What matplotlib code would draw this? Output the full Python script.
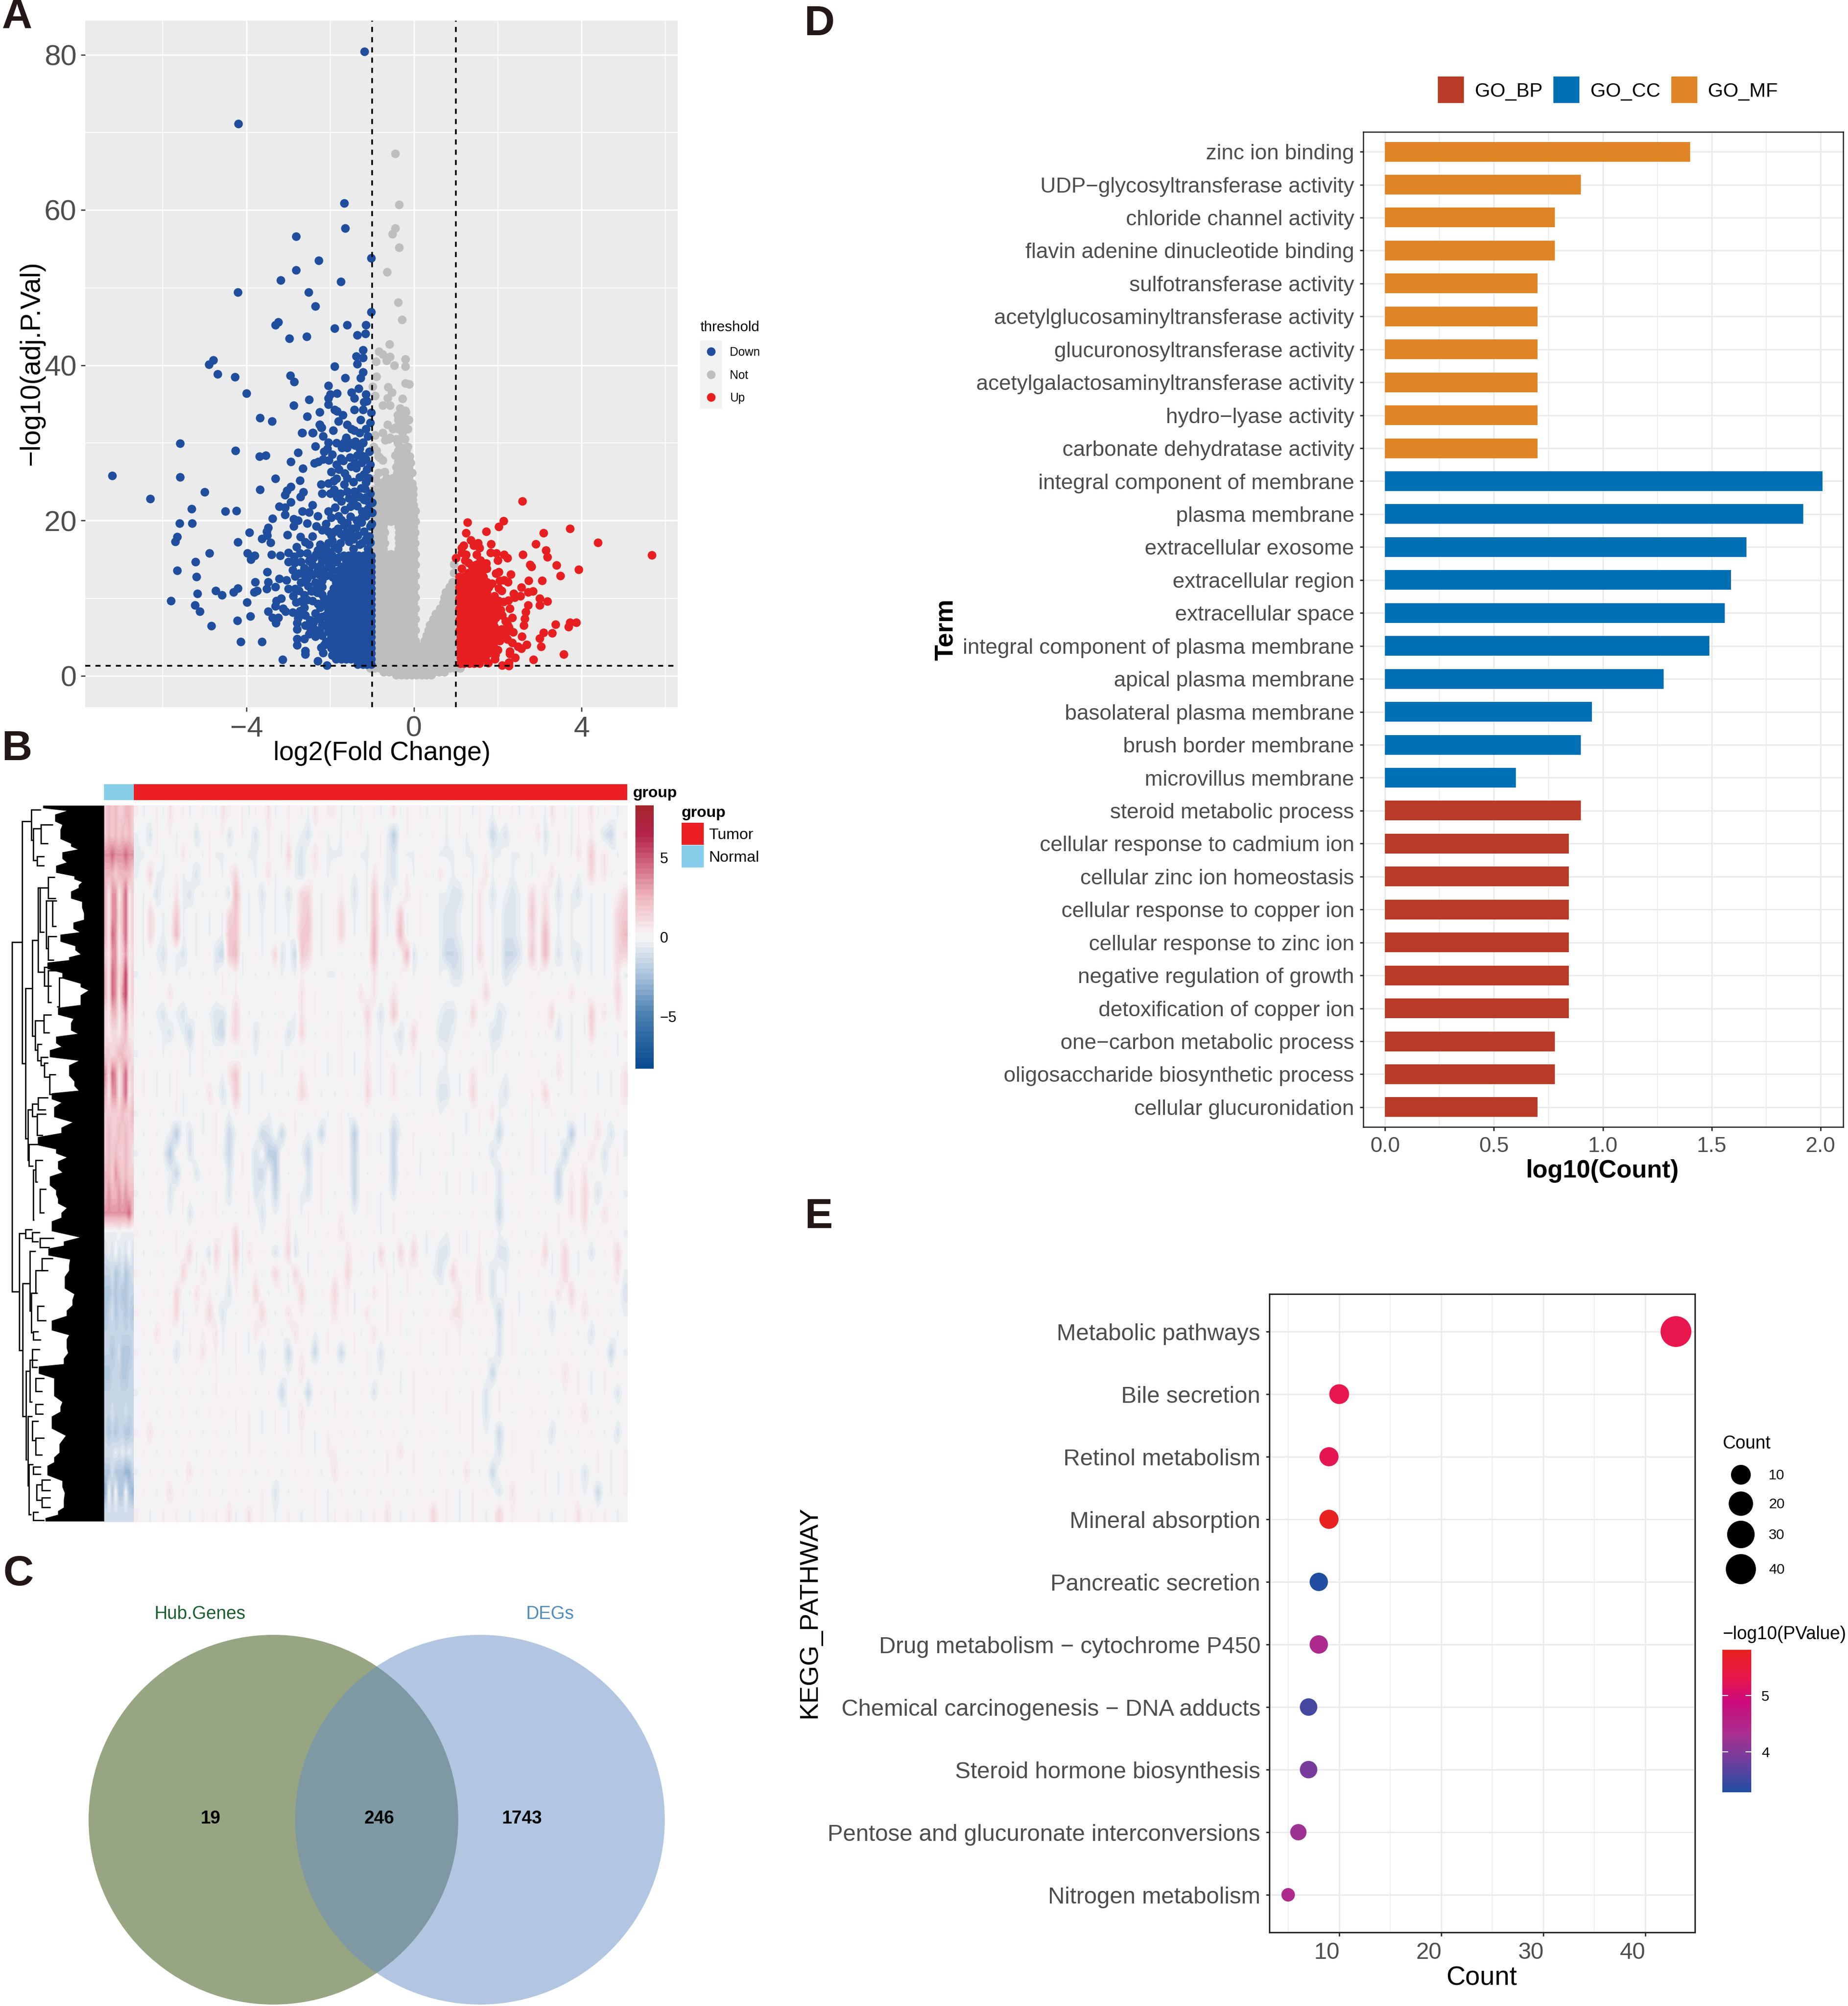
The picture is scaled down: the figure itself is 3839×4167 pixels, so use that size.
"""Five panel figure: volcano, heatmap, venn, GO bars, KEGG dots."""
import numpy as np
import matplotlib
matplotlib.use("Agg")
import matplotlib.pyplot as plt
from matplotlib.cm import ScalarMappable
from matplotlib.colors import LinearSegmentedColormap, ListedColormap, Normalize
from matplotlib.patches import Circle, Rectangle
from matplotlib.ticker import MultipleLocator
from matplotlib.transforms import ScaledTranslation

plt.rcParams["font.family"] = ["Liberation Sans", "DejaVu Sans"]
plt.rcParams["axes.unicode_minus"] = True

W, H, DPI = 3839, 4167, 300

# ---------------- panel A data ----------------
blue_sparse = [
    (-1.18,80.4),(-4.19,71.1),(-1.67,60.9),(-1.64,57.7),(-2.82,56.6),(-2.27,53.5),(-1.02,53.8),(-2.81,52.3),
    (-3.18,51.0),(-1.75,50.8),(-4.21,49.4),(-2.52,49.4),(-2.36,47.6),(-1.02,46.9),(-3.24,45.6),(-3.31,45.2),
    (-1.9,44.8),(-1.6,45.2),(-1.15,45.2),(-1.16,44.1),(-1.35,43.9),(-2.98,43.5),(-2.56,43.7),(-1.22,42.0),
    (-1.38,41.2),(-1.22,41.0),(-1.36,40.2),(-4.79,40.7),(-4.9,40.1),(-1.9,39.9),(-4.69,38.9),(-4.27,38.5),
    (-2.95,38.7),(-2.86,37.9),(-1.22,39.1),(-1.64,38.4),(-1.27,38.4),(-2.05,37.4),(-4.0,36.4),(-1.32,37.0),
    (-1.49,36.5),(-1.15,36.3),(-2.0,36.3),(-1.84,36.4),(-2.05,35.8),(-1.42,35.8),(-2.5,35.6),(-1.2,35.3),
    (-1.13,35.4),(-2.04,35.0),(-1.9,34.3),(-1.84,34.1),(-1.42,34.3),(-1.22,34.3),(-1.02,33.9),(-2.87,34.85),
    (-3.68,33.25),(-3.39,32.8),(-2.55,33.4),(-1.27,33.0),(-2.25,32.35),(-2.22,32.0),(-2.41,31.3),(-2.68,31.3),
    (-1.93,31.6),(-1.49,31.8),(-1.42,31.6),(-2.17,30.9),(-1.62,30.6),(-1.22,30.0),(-7.21,25.8),(-6.3,22.8),
    (-5.59,29.96),(-4.26,29.0),(-5.59,25.6),(-5.0,23.7),(-5.31,21.5),(-4.51,21.2),(-4.24,21.3),(-5.6,19.65),
    (-5.3,19.65),(-3.93,18.5),(-5.66,17.9),(-5.7,17.3),(-4.21,17.25),(-4.88,15.8),(-3.98,15.8),(-3.9,15.0),
    (-3.8,15.5),(-5.22,14.7),(-5.66,13.6),(-5.19,12.8),(-3.51,13.4),(-3.79,12.1),(-3.48,12.1),(-4.21,11.3),
    (-4.31,10.8),(-4.73,11.0),(-4.59,10.4),(-5.17,10.6),(-5.8,9.65),(-3.99,9.5),(-3.81,10.8),(-3.75,11.0),
    (-3.52,11.25),(-5.23,9.1),(-5.12,8.3),(-3.91,7.7),(-4.22,7.15),(-4.84,6.45),(-4.14,4.4),(-3.63,4.4),
    (-3.14,2.1),(-2.3,1.9),(-2.08,1.35),(-2.67,31.3),(-2.42,31.3),(-2.25,32.4),(-2.21,32.0),(-2.04,30.1),
    (-2.36,29.6),(-2.07,29.25),(-2.15,28.9),(-1.95,28.5),(-2.77,28.8),(-2.94,27.6),(-2.66,26.7),(-2.38,27.4),
    (-2.29,27.6),(-2.17,27.9),(-2.03,27.8),(-3.69,28.3),(-3.54,28.4),(-3.31,25.4),(-2.72,25.2),(-2.94,24.35),
    (-3.03,23.9),(-3.08,23.3),(-3.68,24.0),(-2.64,23.7),(-2.71,23.05),(-2.94,22.4),(-3.22,21.8),(-3.08,21.7),
    (-3.08,20.75),(-3.38,20.3),(-2.42,22.0),(-2.67,21.2),(-2.5,21.1),(-2.3,20.6),(-2.05,21.2),(-1.98,20.4),
    (-2.87,20.2),(-2.77,20.0),(-2.87,19.3),(-2.55,19.65),(-3.48,19.1),(-3.52,18.6),(-3.5,18.1),(-3.02,18.2),
    (-3.63,17.7),(-3.43,17.2),(-2.8,16.6),(-2.71,17.9),(-2.6,17.25),(-2.43,18.0),(-2.5,16.9),(-3.4,15.65),
    (-3.19,15.5),(-3.0,15.9),(-3.0,14.7),(-2.9,13.65),(-2.84,12.85),(-2.86,15.4),(-2.72,15.8),(-2.55,15.8),
    (-2.34,15.65),(-2.19,14.9),(-2.62,13.9),(-2.43,14.3),(-2.24,14.2),(-2.62,13.0),(-2.43,13.0),(-2.53,11.6),
    (-2.36,12.0),(-2.19,12.25),(-3.0,11.2),(-2.84,11.25),(-2.89,10.3),(-2.81,9.5),(-2.62,10.4),(-2.43,9.65),
    (-2.31,10.75),(-2.24,8.8),(-3.17,10.0),(-3.29,9.65),(-3.31,9.0),(-3.12,8.7),(-3.48,8.3),(-3.38,7.5),
    (-3.24,7.5),(-3.3,6.8),(-3.07,8.3),(-2.9,8.2),(-2.72,8.4),(-2.62,8.8),(-2.77,7.45),(-2.79,6.8),(-2.79,6.0),
    (-2.48,6.2),(-2.36,8.05),(-2.48,7.2),(-2.38,6.0),(-2.19,5.2),(-2.79,4.75),(-2.62,4.75),(-2.79,4.0),
    (-2.6,3.2),(-2.6,2.8),(-2.22,3.65),(-2.17,3.0),(-1.95,2.65),(-3.22,12.5),(-3.05,12.35),(-3.31,11.5),
    (-1.62,30.7),(-1.67,30.1),(-1.55,30.1),(-1.72,29.4),(-1.6,29.4),(-1.41,29.7),(-1.3,29.25),(-1.22,30.1),
    (-1.07,28.9),(-1.23,28.35),(-1.69,27.7),(-1.53,28.15),(-1.41,27.4),(-1.25,27.5),(-1.38,26.8),(-1.12,26.6),
    (-1.79,26.6),(-1.98,26.3),(-1.65,26.1),(-1.6,25.5),(-1.67,24.7),(-1.08,25.5),(-2.22,24.7),(-2.04,24.8),
    (-1.92,25.1),(-2.19,23.5),(-2.0,23.5),(-1.91,24.0),(-1.76,23.5),(-1.6,23.75),(-1.43,23.75),(-1.38,23.3),
    (-1.26,24.2),(-1.17,24.1),(-1.74,22.5),(-1.84,23.0),(-1.88,21.7),(-1.65,21.4),(-1.52,21.8),(-1.36,21.9),
    (-1.24,21.2),(-1.1,21.5),(-1.0,22.3),(-1.0,21.0),(-1.52,20.5),(-1.37,20.0),(-1.74,20.1),(-1.67,19.4),
    (-1.81,19.0),(-1.05,19.3),(-1.01,19.6),(-2.33,19.3),(-2.19,18.8),(-2.05,18.6),(-1.98,18.1),(-1.62,18.5),
    (-1.48,19.0),(-1.34,18.1),(-1.07,18.0),(-1.38,19.1),(-1.67,17.9),(-1.76,17.1),(-2.05,17.1),(-2.24,16.9),
    (-2.17,16.15),(-2.0,15.9),(-1.81,16.4),(-1.24,17.1),(-1.1,16.4),(-1.45,16.4),
    # fringe of the dense cloud
    (-1.05,17.2),(-1.15,17.6),(-1.3,16.9),(-1.55,17.3),(-1.45,17.6),(-1.9,16.6),(-1.95,17.4),(-2.1,16.4),(-2.3,16.2),
    (-1.2,18.6),(-1.5,18.2),(-1.75,18.3),(-1.9,18.6),(-1.25,19.8),(-1.6,19.7),(-2.1,19.6),(-1.15,20.6),(-1.25,20.4),
    (-1.8,20.6),(-1.78,15.3),(-1.85,14.7),(-1.95,15.1),(-2.1,15.2),(-2.05,14.6),(-2.25,15.5),(-2.4,15.2),(-2.5,14.8),
    (-2.7,14.7),(-2.85,14.6),(-2.3,13.6),(-2.15,13.7),(-1.95,13.5),(-1.8,13.6),(-1.7,13.3),(-2.1,12.9),(-2.25,13.0),
    (-2.5,13.5),(-2.75,13.2),(-2.55,12.5),(-2.7,12.0),(-2.75,11.0),(-2.2,11.5),(-2.35,11.1),(-2.45,10.9),(-2.2,10.5),
    (-2.55,9.8),(-2.7,9.6),(-2.3,9.3),(-2.15,9.9),(-2.2,7.6),(-2.3,7.4),(-2.4,6.9),(-2.2,6.6),(-2.25,5.9),(-2.6,7.8),
    (-2.6,6.5),(-2.5,5.4),(-2.35,5.1),(-2.1,4.4),(-2.15,4.0),(-1.1,22.5),(-1.2,22.7),(-1.3,23.1),(-1.05,23.5),
    (-1.15,23.0),(-1.45,22.6),(-1.55,22.9),(-1.15,24.9),(-1.3,25.6),(-1.45,25.0),(-1.2,26.0),(-1.85,25.4),(-1.35,28.4),
    (-1.15,27.9),(-1.5,27.0),(-1.05,27.2),(-1.75,28.0),(-1.85,27.2),(-1.4,30.2),(-1.1,30.9),(-1.85,30.0),(-1.8,32.8),
    (-1.6,32.4),(-1.15,31.8),(-1.05,32.6),(-1.7,33.6),(-2.25,34.0),(-1.3,31.3),
]
# dense part of the down-regulated cloud, one (y, x values) row at a time
blue_rows = [
    (1.5, [-1.02,-1.12,-1.22,-1.34]),
    (2.2, [-1.02,-1.14,-1.26,-1.38,-1.5,-1.62,-1.74,-1.86]),
    (2.9, [-1.02,-1.08,-1.2,-1.32,-1.44,-1.56,-1.68,-1.8,-1.92]),
    (3.6, [-1.02,-1.14,-1.26,-1.38,-1.5,-1.62,-1.74,-1.86,-1.98]),
    (4.3, [-1.02,-1.08,-1.2,-1.32,-1.44,-1.56,-1.68,-1.8,-1.92]),
    (5.0, [-1.02,-1.14,-1.26,-1.38,-1.5,-1.62,-1.74,-1.86,-1.98]),
    (5.7, [-1.02,-1.08,-1.2,-1.32,-1.44,-1.56,-1.68,-1.8,-1.92,-2.04]),
    (6.4, [-1.02,-1.14,-1.26,-1.38,-1.5,-1.62,-1.74,-1.86,-1.98,-2.08]),
    (7.1, [-1.02,-1.08,-1.2,-1.32,-1.44,-1.56,-1.68,-1.8,-1.92,-2.04]),
    (7.8, [-1.02,-1.14,-1.26,-1.38,-1.5,-1.62,-1.74,-1.86,-1.98,-2.1]),
    (8.5, [-1.02,-1.08,-1.2,-1.32,-1.44,-1.56,-1.68,-1.8,-1.92,-2.04]),
    (9.2, [-1.02,-1.14,-1.26,-1.38,-1.5,-1.62,-1.74,-1.86,-1.98,-2.1]),
    (9.9, [-1.02,-1.08,-1.2,-1.32,-1.44,-1.56,-1.68,-1.8,-1.92,-2.04]),
    (10.6, [-1.02,-1.14,-1.26,-1.38,-1.5,-1.62,-1.74,-1.86,-1.98]),
    (11.3, [-1.02,-1.08,-1.2,-1.32,-1.44,-1.56,-1.68,-1.8,-1.92]),
    (12.0, [-1.02,-1.14,-1.26,-1.38,-1.5,-1.62,-1.74,-1.86]),
    (12.7, [-1.02,-1.08,-1.2,-1.32,-1.44,-1.56,-1.68,-1.8,-1.94]),
    (13.4, [-1.02,-1.14,-1.26,-1.38,-1.5,-1.62]),
    (14.1, [-1.02,-1.08,-1.2,-1.32,-1.44,-1.56,-1.72,-1.98]),
    (14.8, [-1.02,-1.14,-1.26,-1.38,-1.5,-1.62,-1.85]),
    (15.5, [-1.02,-1.2,-1.32,-1.44,-1.56,-1.68,-1.95]),
]

gray_sparse = [
    (-0.45,67.3),(-0.36,60.7),(-0.45,57.7),(-0.52,56.9),(-0.35,55.2),(-0.64,52.0),(-0.38,48.1),(-0.29,45.9),
    (-0.58,42.7),(-0.84,41.8),(-0.75,41.4),(-0.91,40.5),(-0.65,40.6),(-0.57,41.1),(-0.47,40.0),(-0.21,40.8),
    (-0.21,39.9),(-0.9,38.6),(-0.21,37.7),(-0.11,37.6),(-0.99,37.3),(-0.62,37.2),(-0.53,36.5),(-0.93,36.1),
    (-0.63,35.8),(-0.27,35.7),(-0.75,34.85),(-0.57,34.85),(-0.33,34.5),(-0.21,34.2),(-0.39,33.6),(-0.27,33.6),
    (-0.15,32.9),(-0.63,32.4),(-0.27,32.4),(-0.93,31.0),(-0.75,31.3),(-0.57,30.7),(-0.45,32.0),(-0.27,31.3),
    (-0.69,30.4),(-0.39,30.0),(-0.15,29.5),(-0.27,29.4),(-0.96,29.5),(-0.81,28.1),(-0.45,28.4),(-0.27,28.1),
    (-0.08,27.5),(-0.75,27.8),(0.95,14.4),(0.95,13.3),(-0.33,27.0),(-0.22,26.6),(-0.05,26.2),(-0.7,26.3),
    (-0.92,25.4),(-0.45,25.5),(-0.3,25.2),(-0.15,25.0),(-0.05,24.8),(-0.75,24.9),(-0.6,24.3),(-0.98,24.0),
    (-0.8,23.8),(-0.4,24.0),(-0.25,23.6),(-0.1,23.7),(-0.02,23.4),(-0.55,23.2),(-0.7,23.1),(-0.9,22.9),
]
gray_a = [-0.97,-0.85,-0.73,-0.61,-0.49,-0.37,-0.25,-0.13,-0.01]
gray_b = [-0.92,-0.79,-0.67,-0.55,-0.43,-0.31,-0.19,-0.07,0.04]
gray_hole_a = [-0.97,-0.85,-0.73,-0.37,-0.25,-0.13,-0.01]
gray_hole_b = [-0.92,-0.79,-0.7,-0.35,-0.31,-0.19,-0.07,0.02]
gray_arm_rows = [
    (3.8,gray_a),(4.5,gray_b),(5.2,gray_a),(5.9,gray_b),(6.6,gray_a),(7.3,gray_b),(8.0,gray_a),(8.7,gray_b),
    (9.4,gray_a),(10.1,gray_b),(10.8,gray_a),(11.5,gray_b),(12.2,gray_a),(12.9,gray_b),(13.6,gray_a),(14.3,gray_b),
    (15.0,gray_a),(15.7,gray_b),(16.4,gray_hole_a),(17.1,gray_hole_b),(17.8,gray_hole_a),(18.5,gray_hole_b),
    (19.2,gray_hole_a),(19.9,gray_b),(20.6,gray_a),(21.3,gray_b),(22.0,gray_a),
    (22.7,[-0.95,-0.8,-0.65,-0.5,-0.38,-0.26,-0.14,-0.03]),(23.4,[-0.9,-0.72,-0.55,-0.42,-0.3,-0.18,-0.06]),
    (24.1,[-0.7,-0.5,-0.36,-0.24,-0.12,-0.02]),(24.8,[-0.85,-0.6,-0.42,-0.3,-0.18,-0.08]),
    (25.5,[-0.65,-0.5,-0.36,-0.24,-0.12]),(26.2,[-0.85,-0.4,-0.3,-0.18,-0.06]),(26.9,[-0.42,-0.32,-0.22,-0.12]),
    (27.6,[-0.38,-0.28,-0.18]),(28.3,[-0.85,-0.4,-0.3,-0.2,-0.1]),(29.0,[-0.9,-0.38,-0.28,-0.18]),
    (30.5,[-0.6,-0.42,-0.32,-0.22]),(31.8,[-0.5,-0.38,-0.25,-0.15]),(33.0,[-0.38,-0.28,-0.2,-0.12]),(34.0,[-0.3,-0.2]),
]
gray_base_rows = [
    (0.15, [-0.42,-0.3,-0.18,-0.06,0.06,0.18,0.3,0.42]),
    (0.5, [-0.72,-0.6,-0.48,-0.36,-0.24,-0.12,0.0,0.12,0.24,0.36,0.48,0.6,0.72]),
    (1.0, [-1.05,-0.94,-0.82,-0.7,-0.58,-0.46,-0.34,-0.22,-0.1,0.02,0.14,0.26,0.38,0.5,0.62,0.74,0.86,0.98,1.1]),
    (1.7, [-0.98,-0.86,-0.74,-0.62,-0.5,-0.38,-0.26,-0.14,-0.02,0.1,0.22,0.34,0.46,0.58,0.7,0.82,0.94,1.02]),
    (2.4, [-0.92,-0.8,-0.68,-0.56,-0.44,-0.32,-0.2,-0.08,0.04,0.16,0.28,0.4,0.52,0.64,0.76,0.88,1.0]),
    (3.1, [-0.98,-0.86,-0.74,-0.62,-0.5,-0.38,-0.26,-0.14,-0.02,0.08,0.2,0.32,0.44,0.56,0.68,0.8,0.92,1.02]),
    (3.8, [0.13,0.24,0.36,0.48,0.6,0.72,0.84,0.96]),
    (4.5, [0.25,0.36,0.48,0.6,0.72,0.84,0.96,1.02]),
    (5.2, [0.3,0.42,0.54,0.66,0.78,0.9,1.02]),
    (5.9, [0.34,0.46,0.58,0.7,0.82,0.94,1.02]),
    (6.6, [0.38,0.5,0.62,0.74,0.86,0.98]),
    (7.3, [0.46,0.58,0.7,0.82,0.94,1.02]),
    (8.0, [0.52,0.62,0.74,0.86,0.98]),
    (8.7, [0.62,0.72,0.84,0.96,1.02]),
    (9.4, [0.7,0.8,0.92,1.02]),
    (10.1, [0.72,0.84,0.96]),
    (10.8, [0.76,0.88,1.0]),
    (11.5, [0.85,0.96]),
    (12.1, [0.92,1.0]),
]

red_sparse = [
    (2.59,22.5),(1.28,19.76),(2.14,19.97),(2.02,19.2),(3.73,19.0),(1.24,18.43),(1.72,18.6),(3.09,18.4),(4.39,17.2),
    (1.36,17.5),(1.53,17.1),(2.91,17.0),(1.19,16.8),(1.84,17.0),(1.43,16.8),(1.56,16.5),(1.14,16.5),(3.15,16.2),
    (5.68,15.56),(1.83,15.85),(1.97,15.8),(2.15,15.6),(2.23,15.2),(2.6,15.65),(3.18,15.3),(2.0,14.9),(1.0,15.2),
    (1.14,15.85),(1.24,15.6),(1.5,15.6),(1.22,14.9),(1.3,14.6),(2.77,14.35),(2.81,14.1),(3.4,14.26),(1.59,14.9),
    (1.72,14.5),(3.93,13.7),(1.74,13.8),(1.14,13.8),(1.96,13.2),(2.02,13.4),(2.31,13.06),(3.49,12.9),(2.05,12.3),
    (2.15,12.35),(2.24,12.07),(2.74,12.3),(3.06,12.25),(1.86,11.9),(2.56,11.4),(2.02,11.3),(2.09,11.0),(2.38,10.6),
    (2.54,10.3),(2.4,10.1),(2.72,10.8),(2.84,10.9),(3.0,10.0),(3.19,9.6),(3.0,9.1),(2.72,9.1),(2.25,9.75),(2.14,9.55),
    (2.29,8.7),(2.67,8.25),(2.07,8.5),(2.35,7.5),(2.65,7.35),(2.62,6.5),(3.38,6.65),(3.73,6.9),(3.88,6.9),(3.69,6.3),
    (3.09,5.6),(3.3,5.5),(3.0,4.85),(2.57,5.06),(2.37,5.66),(2.69,4.03),(3.04,3.8),(3.58,2.8),(2.85,2.09),(2.56,3.55),
    (2.48,3.76),(2.29,3.14),(2.29,2.83),(2.41,2.37),(2.11,1.34),(2.27,1.73),(2.26,1.28),(1.77,1.69),(1.93,2.2),
    (1.94,2.73),(2.0,3.35),(2.19,7.07),(2.23,6.65),(2.27,6.24),(2.09,6.03),(2.19,5.4),(2.05,5.0),(2.05,4.5),(2.23,4.69),
    (2.35,4.28),(1.98,9.1),(2.02,8.3),(1.9,7.0),(1.9,5.72),(1.88,4.8),(1.38,14.2),(1.48,14.3),(1.62,14.0),(1.5,13.6),
    (1.92,10.3),(2.02,9.7),(1.95,8.0),(1.92,6.3),(1.98,5.3),(1.9,3.9),(1.85,3.0),(1.95,7.5),(2.1,7.8),(1.88,9.0),
]
red_a = [1.08,1.2,1.32,1.44,1.56,1.68,1.8]
red_b = [1.12,1.26,1.38,1.5,1.62,1.74,1.86]
red_rows = [
    (1.6,[1.1,1.2,1.32,1.44,1.56]),(2.3,[1.12,1.26,1.38,1.5,1.62,1.7]),(3.0,red_a),(3.7,red_b),(4.4,red_a),
    (5.1,red_b),(5.8,red_a),(6.5,red_b),(7.2,red_a),(7.9,red_b),(8.6,red_a),(9.3,red_b),(10.0,red_a),
    (10.7,[1.12,1.26,1.38,1.5,1.62,1.74]),(11.4,[1.08,1.2,1.32,1.44,1.56,1.68,1.78]),
    (12.1,[1.12,1.26,1.38,1.5,1.62,1.74]),(12.8,[1.08,1.2,1.32,1.44,1.56,1.66]),(13.3,[1.3,1.42,1.54,1.62]),
]
volcano_legend = ["Down", "Not", "Up"]
volcano_colors = ["#1F4E9E", "#BEBEBE", "#E71F20"]

# ---------------- panel B data ----------------
# one string per row band: 9 normal columns then 5 groups of 15 tumor columns
heat_rows = [
    "343433443 1a.1a2.1a.1.a21 .1a1.2a.1.1a2.1 1a.a1.1a.2a1.1a .1a.1.a1.a1.1a. 1.a2.1a1.2a1.a.",
    "343434343 a.b1.1a.1b.1.1b .1.b.1.a1.ab.1a .a1.1a.1ad.1.a. 1.a.1a.1.cab.1. .2b.1.a1.1.bc.1",
    "556555655 aa.1a.a2a.a1aa. a.aa.1.a3ab.2.a aa.1aa.1ab.aa1. .aaa.aa.1aa.aa. a.a.1.a2.4.2.a.",
    "444344443 a.3aa.1a.b.1.a1 3a.a.2a.1ab.1.a .1.a.a2.ab.1a.1 a2.a.1a.2a1.a.1 a1.2a.1a.3.2a.a",
    "415514613 .a.b.a2ab.a.a.b 5.a.b.a.b.33.a. .1.b.a4.b.a2.1a .aabb.a2.b.aba. 3.2.b.ab.a.a.13",
    "415524613 .a3.a.4a.a.a.a3 4.a.a.a.a.34.a. .3.a.a4.a.4a.1. .abba.a2.a.bba. 4.3.a.a..a.a.34",
    "416514613 .a3.a.5a.a.a.a4 4.a.a.a.a.44.a. .3.a.a5.a.5a.1. .abba.a2.a.bba. 3.5.a.a..a.a.35",
    "315513512 .a.ab.ab.a.1bc4 5a.1a.3b.c43.a. .a.1a.5a.a.5b.a. .accb.a3.a.ccb. 4.5.b.ab.a.a.33",
    "416524713 a.1.a.a.a.a.a1a 1a.a.a.a.a1.a.a a1.a.a2.a.1.a.. .a.bb.a.1a.ba.. .1.a.a.a.a.a.2a",
    "416515713 .....2.....1.1. 1.....1...2.1.. ....2.2..2..... ........3...... 1...1.2.1....3.",
    "214413512 .a.ab.ab.a.abb. 3.a.a.a1.a2.1.a .1.a.3.b.4.a.1. .abb.a3.a.ba.a. .1.3a.a.a4.2a2.",
    "212213411 ..a.ab.ac.1.bc1 3.1b.a1.ba3.a.1 .1a.a2.a.ab.3.. .bba.1.a.bb.a.1 .a1.b.a.a3.a.a1",
    "332344332 a.1.a1.1a.1a.1. a1.a.1.a.1a.1.a .1.a.1.a1.a.1a. 1.a.1.a.1a.1.a. 1.a.1.a1.a.1.a.",
    "526514623 .1.a.a1.a.1..a2 4.a.a.1a.a2.1.a .1.a.2.a.2.1.a. .aa.a.2.1a.a.. .1.a2.a.a.a.a.2",
    "415514613 .1.a.a1a.a.2.b. 4.a.a.a.a.31.a. a.1.a3.a.2.a.a. .bb.a.3.a.ab.. 1.3.a.a.1.a.a.2",
    "333334334 a.1.a.1a.1a.1.a 1.a.1a.1.1a.1.a .1a.1.a1.a.1a.. 1a.1.a.1.2a.1.a 1a.1.a1.a.1a.1.",
    "343343433 .a.1.ad.b.a.1.c a.1.cb.c.1.a.c. .1.d.1.a.ca.1.. .1.a.a.1a.c.a.. 1.a.a.d.a.2.b.a",
    "343433432 a.1.ad.1b.1.1ac .1.b.dd.1.ac.1. .1.c.1.a.c1.1a. a.1a.1.a.b.1.a. 1.a1.c.1.2.b.1a",
    "443543433 .a.1.ac.1b.1.1b .1.bc.d.a.1b.1. .1.c.a.1.c.1.a. .1a.1.a.1.b.a.. 1.a.c.1.2a.a.1.",
    "454454544 a.1.1b.1.1a.1.b 1.1ba.c.1.ab.1. a.1c.1.a.b1.1.. 1.a.1.a.1.b.1.. a.1.c.2.3.b.1.a",
    "555555564 .a.1.a.1b.1.1a. a.1.b.a.1.a1.1a .1.a.1.a.1.1a.. a.1.a.1.a.c.a1. .1a.1.2.3a.2.1.",
    "aaaa.aaaa 1.a.1.1a.1.1.1. 3a.1a.1.2a.1a.1 .2.1a.1a.1.a1.a 1.a.1a.1.1a.1.a .a1.1.a.1.1.1.a",
    "bab.bab.b .a.1a.1.3a.b3.a 4a2.1.b.3b.a.1. .a2.1.a3.a3.3.a .bb.1a.1a.bb.a. 1.3a.3.a.b.1.3.",
    "ccbdcbdcb 1.a.1.a3.a2.1.a 2a.1a.3.a3.a1.a 1.3.a.a.1a.1.1. ab.3.1.2.b.a.1. .1.a.3.a.1.a.2a",
    "ddcdcddcc .1.1.a3.a2.1a.b 1.a3.a.1a.3.a1. 3.1a.a2.1.a1.a. 1.a.2a.2.b.a.a. a.1.2.3.1.a.1.b",
    "dcbdccdcd 1.a.1.3a.1.3.b. a.1.3.a.2.1.1a. 2.1a.2a.1.1.a.1 .1.22.1.1.c.1a. .a.b.a1.2.1.a.a",
    "ccccccccc .1.2.1.a1.1.2a. 1.a2.1.a.2.1a.1 .1.1a.2.1.1a.1. 1.1.1.a1.1b.1.. .1.a.1.a.b.1.a.",
    "ccdcbdddc 1.a.1.b.1.2.1a. 1.a.b.a.c.1.c.1 .c.1.1.b.a.1.1. a.1.1.1.a.b.1.a 1.a.1.1.a.1.c.a",
    "ddcccddcc .1.a.1.1.1.a1.a 1.1.a.1.a.2.1.a .1.a.1.a.1a.1.1 .1.1.a.1.c.1.a. .a.1.2.1.a.1.1.",
    "ccccccccc a.1.1.a.1.a.1.1 .1.a.1.c.1.c.1. 1.a.1.b.1.a.1.. 1.1.a.1.b.1.1.. .1.a.1.1.a.1.b.",
    "ccbcccbcc .1.a.1.1.a.1.1. 1.1.a.1.a.2.1.a 1.1.a.1.a.1.1.. a.1.1.1.b.1.a.. 1.1.a.1.2.a.1..",
    "cdcdccddc 1.2.1.a.1.a.1.a 1.1.a.1.a.1.a.1 .1.1.a.1.1.a.1. 1.a.1.1.a.c.1.. .1.b.1.1.1.a.b.",
    "bbbababab .1.a.1.1.a.1.1. a.1.1.a.1.1.a.1 1.a.1.a.1.2.1.. a.1.a.1.1.b.1.. 1.a.1.a.1.1.a.1",
    "ddbdddeec a.1.1.a.2.1.a.1 .1.a.1.a.1.1.a. 2.1.a.1.1.a.1.. .1.a.2.a.c.1... 1.1.a.1.b.1.a.1",
    "e.d.dd.de .1.a.2.1.a.1.a. 1.a.1.b.a.1.1.a .1.a.1.a.1.a.1. a.1.a.1.1.b.2.. a.1.a.1.a.c.a.1",
    "bbbbbbbbb 1.a.1.1.a.1.1.2 a.2.1.a.1.a.1.a 1.1.a.1.2.a.1.. 3.1.a.1.a.3.1.. .1.a.1.2.1.1.a.",
]
normal_levels = {"e": -3.0, "d": -2.2, "c": -1.6, "b": -1.0, "a": -0.5, ".": 0.0, "1": 0.5,
                 "2": 1.0, "3": 1.6, "4": 2.4, "5": 3.4, "6": 4.6, "7": 5.6}
tumor_levels = {"d": -1.9, "c": -1.4, "b": -0.9, "a": -0.4, ".": 0.0, "1": 0.4,
                "2": 0.8, "3": 1.3, "4": 1.8, "5": 2.4}
# dendrogram outline, pixel row then left edge of the black leaves
dend_y = [1673,1684,1699,1713,1733,1752,1764,1776,1791,1805,1820,1832,1844,1859,1873,1897,1910,1922,1936,1946,
          1965,1982,1994,2004,2021,2043,2057,2077,2087,2099,2116,2133,2147,2159,2174,2188,2203,2222,2246,2265,
          2276,2290,2309,2331,2353,2370,2387,2404,2420,2435,2452,2472,2490,2509,2529,2544,2570,2587,2599,2616,
          2639,2664,2688,2711,2733,2753,2773,2790,2810,2833,2843,2863,2887,2912,2932,2952,2982,3017,3037,3052,
          3076,3101,3131,3146,3160]
dend_left = [89,138,114,129,125,147,161,129,138,116,154,170,163,147,170,174,174,152,165,125,
             156,167,143,98,129,167,183,167,167,120,152,147,161,116,127,103,163,143,154,163,
             107,127,112,150,127,78,116,138,120,129,103,116,120,138,127,107,165,132,100,145,
             143,134,154,150,138,107,143,138,141,132,80,112,112,129,125,107,136,123,112,98,
             129,134,132,120,94]
# brackets: parent x, top y, bottom y, top child x, bottom child x
dend_brackets = [
    (25,1957,2683,46,40),(46,1706,2209,65,53),(65,1682,1745,85,69),(69,1721,1787,85,77),(85,1713,1752,110,100),
    (77,1779,1798,92,92),(53,2053,2365,67,58),(67,1953,2152,79,73),(79,1844,2019,83,92),(83,1844,1936,100,92),
    (100,1822,1866,114,116),(96,1871,1970,109,100),(109,1871,1924,118,117),(100,1945,1994,118,112),
    (92,2009,2048,100,107),(100,2016,2082,123,107),(123,2031,2091,134,118),(73,2120,2181,91,78),(91,2108,2145,107,103),
    (78,2169,2203,87,85),(85,2196,2213,100,92),(92,2208,2237,100,103),(103,2232,2273,116,116),(58,2305,2410,67,60),
    (67,2293,2319,79,77),(79,2280,2305,100,95),(77,2314,2358,96,89),(60,2377,2422,80,69),(69,2430,2534,74,71),
    (74,2410,2455,89,78),(83,2470,2519,96,92),(40,2562,2805,53,47),(53,2554,2572,67,67),(67,2560,2579,83,80),
    (83,2572,2591,112,103),(47,2666,2942,62,54),(62,2599,2723,74,65),(87,2614,2639,110,100),(74,2639,2686,92,65),
    (78,2713,2743,92,96),(65,2686,2768,78,69),(69,2766,2783,80,85),(67,2803,2840,83,78),(54,2848,3032,62,56),
    (62,2825,2912,78,67),(74,2863,2890,92,88),(74,2917,2937,90,90),(58,2942,3086,67,60),(67,2952,2992,80,74),
    (74,2987,3022,92,88),(60,3042,3146,69,65),(69,3047,3062,85,85),(76,3084,3116,87,87),(87,3074,3096,105,105),
    (87,3111,3131,105,105),(69,3141,3158,80,92),
]
group_legend = ["Tumor", "Normal"]
group_colors = ["#EC2024", "#87CEEB"]

# ---------------- panel C data ----------------
venn_names = ["Hub.Genes", "DEGs"]
venn_counts = [19, 246, 1743]

# ---------------- panel D data ----------------
go_terms = [
    "zinc ion binding", "UDP−glycosyltransferase activity", "chloride channel activity",
    "flavin adenine dinucleotide binding", "sulfotransferase activity", "acetylglucosaminyltransferase activity",
    "glucuronosyltransferase activity", "acetylgalactosaminyltransferase activity", "hydro−lyase activity",
    "carbonate dehydratase activity", "integral component of membrane", "plasma membrane", "extracellular exosome",
    "extracellular region", "extracellular space", "integral component of plasma membrane", "apical plasma membrane",
    "basolateral plasma membrane", "brush border membrane", "microvillus membrane", "steroid metabolic process",
    "cellular response to cadmium ion", "cellular zinc ion homeostasis", "cellular response to copper ion",
    "cellular response to zinc ion", "negative regulation of growth", "detoxification of copper ion",
    "one−carbon metabolic process", "oligosaccharide biosynthetic process", "cellular glucuronidation",
]
go_values = [1.40, 0.90, 0.78, 0.78, 0.70, 0.70, 0.70, 0.70, 0.70, 0.70,
             2.01, 1.92, 1.66, 1.59, 1.56, 1.49, 1.28, 0.95, 0.90, 0.60,
             0.90, 0.845, 0.845, 0.845, 0.845, 0.845, 0.845, 0.78, 0.78, 0.70]
go_groups = ["GO_MF"] * 10 + ["GO_CC"] * 10 + ["GO_BP"] * 10
go_names = ["GO_BP", "GO_CC", "GO_MF"]
go_colors = {"GO_BP": "#B93A26", "GO_CC": "#0070B5", "GO_MF": "#E08526"}

# ---------------- panel E data ----------------
kegg_terms = ["Metabolic pathways", "Bile secretion", "Retinol metabolism", "Mineral absorption",
              "Pancreatic secretion", "Drug metabolism − cytochrome P450", "Chemical carcinogenesis − DNA adducts",
              "Steroid hormone biosynthesis", "Pentose and glucuronate interconversions", "Nitrogen metabolism"]
kegg_count = [43, 10, 9, 9, 8, 8, 7, 7, 6, 5]
kegg_logp = [5.3, 5.3, 5.25, 5.8, 3.3, 4.4, 3.55, 3.9, 4.2, 4.4]
count_legend = [10, 20, 30, 40]


def px_axes(fig, left, top, right, bottom, **kw):
    """Axes placed with reference pixel coordinates."""
    return fig.add_axes([left / W, 1 - bottom / H, (right - left) / W, (bottom - top) / H], **kw)


def count_diam(c):
    # ggplot area scale: sqrt between smallest and largest count, in pixels
    return 28 + 36 * np.sqrt((np.asarray(c, float) - 5) / 38)


def px_to_s(d):
    return (np.asarray(d) * 72 / DPI) ** 2


def rows_xy(rows):
    xs, ys = [], []
    for y, vals in rows:
        xs.extend(vals); ys.extend([y] * len(vals))
    return xs, ys


fig = plt.figure(figsize=((W + 0.01) / DPI, (H + 0.01) / DPI), dpi=DPI)
over = fig.add_axes([0, 0, 1, 1], zorder=10, facecolor="none")
over.set_xlim(0, W); over.set_ylim(H, 0); over.axis("off")

for lab, x, y in [("A", 35, 36), ("B", 35, 1556), ("C", 38, 3270), ("D", 1702, 50), ("E", 1700, 2528)]:
    over.text(x, y, lab, fontsize=21, fontweight="bold", color="#231815", ha="center", va="center")

# ============================================================
# A: volcano
# ============================================================
ax = px_axes(fig, 177, 43, 1408, 1469)
ax.set_facecolor("#EBEBEB")
ax.set_xlim(-7.85, 6.3); ax.set_ylim(-4.03, 84.4)
ax.xaxis.set_major_locator(MultipleLocator(4)); ax.yaxis.set_major_locator(MultipleLocator(20))
ax.xaxis.set_minor_locator(MultipleLocator(2)); ax.yaxis.set_minor_locator(MultipleLocator(10))
ax.grid(which="major", color="white", lw=0.75); ax.grid(which="minor", color="white", lw=0.4)
ax.set_axisbelow(True)
for s in ax.spines.values():
    s.set_visible(False)
ax.tick_params(which="minor", length=0)
ax.tick_params(which="major", length=2.2, width=0.6, color="#333333", labelcolor="#4D4D4D", labelsize=14.5, pad=2)

ms = px_to_s(18)
gx, gy = rows_xy(gray_base_rows + gray_arm_rows)
ax.scatter(gx + [p[0] for p in gray_sparse], gy + [p[1] for p in gray_sparse], s=ms, c=volcano_colors[1], linewidths=0)
bx, by = rows_xy(blue_rows)
ax.scatter(bx + [p[0] for p in blue_sparse], by + [p[1] for p in blue_sparse], s=ms, c=volcano_colors[0], linewidths=0)
rx, ry = rows_xy(red_rows)
ax.scatter(rx + [p[0] for p in red_sparse], ry + [p[1] for p in red_sparse], s=ms, c=volcano_colors[2], linewidths=0)
dash = (0, (3, 3))
ax.axvline(-1, color="black", lw=0.85, ls=dash); ax.axvline(1, color="black", lw=0.85, ls=dash)
ax.axhline(1.3, color="black", lw=0.85, ls=dash)
over.text(793, 1565, "log2(Fold Change)", fontsize=13.1, ha="center", va="center")
over.text(66, 755, "−log10(adj.P.Val)", fontsize=13.6, rotation=90, ha="center", va="center")

over.text(1454, 680, "threshold", fontsize=7.2, va="center")
over.add_patch(Rectangle((1454, 707), 46, 142, fc="#F2F2F2", ec="none"))
for name, col, y in zip(volcano_legend, volcano_colors, [730, 778, 825]):
    over.scatter([1477], [y], s=ms, c=col, linewidths=0)
    over.text(1516, y + 2, name, fontsize=5.9, va="center")

# ============================================================
# B: heatmap
# ============================================================
heat_cmap = LinearSegmentedColormap.from_list(
    "heat", [(0, "#0A4B91"), (0.2, "#4A7FB0"), (0.35, "#A9C2DC"), (0.5, "#F7F7F7"),
             (0.65, "#EFB9C2"), (0.8, "#CC5B77"), (0.9, "#B3234A"), (1, "#A5252E")], N=50)
heat_norm = Normalize(-8.3, 8.3)
heat_normal, heat_tumor = [], []
for row in heat_rows:
    parts = row.split(" ")
    heat_normal.append([normal_levels[c] for c in parts[0].ljust(9, ".")])
    heat_tumor.append([tumor_levels[c] for c in "".join(p.ljust(15, ".")[:15] for p in parts[1:])])
for block, left, right in [(heat_normal, 216, 278), (heat_tumor, 278, 1303)]:
    ax = px_axes(fig, left, 1673, right, 3162)
    ax.imshow(np.array(block), aspect="auto", cmap=heat_cmap, norm=heat_norm, interpolation="bilinear")
    ax.axis("off")

col_edges = np.concatenate([np.arange(0, 9) * 0.5, 4.5 + np.arange(0, 76)])
ax = px_axes(fig, 216, 1629, 1303, 1662)
ax.pcolormesh(col_edges, [0, 1], np.array([[1] * 9 + [0] * 75]), cmap=ListedColormap(group_colors),
              vmin=0, vmax=1, antialiased=False)
ax.axis("off")
over.text(1315, 1648, "group", fontsize=7.8, fontweight="bold", va="center")

# narrow white slits between the leaves: keep the outer of two neighbouring tips between them
poly_y, poly_x = [], []
for i in range(len(dend_y) - 1):
    poly_y += [dend_y[i], (dend_y[i] + dend_y[i + 1]) / 2]
    poly_x += [dend_left[i], min(dend_left[i], dend_left[i + 1])]
poly_y.append(dend_y[-1]); poly_x.append(dend_left[-1])
over.fill_betweenx(poly_y, poly_x, 216, color="black", lw=0)
for x0, y1, y2, c1, c2 in dend_brackets:
    over.plot([c1, x0, x0, c2], [y1, y1, y2, y2], color="black", lw=0.65, solid_joinstyle="miter", solid_capstyle="butt")

cax = px_axes(fig, 1320, 1673, 1358, 2220)
cb = fig.colorbar(ScalarMappable(heat_norm, heat_cmap), cax=cax)
cb.set_ticks([-5, 0, 5]); cb.outline.set_visible(False)
cax.tick_params(length=0, labelsize=7.4, pad=3)

over.text(1416, 1689, "group", fontsize=7.8, fontweight="bold", va="center")
for name, col, y0 in zip(group_legend, group_colors, [1709, 1756]):
    over.add_patch(Rectangle((1416, y0), 46, 46, fc=col, ec="none"))
    over.text(1472, y0 + 26, name, fontsize=7.8, va="center")

# ============================================================
# C: venn
# ============================================================
over.add_patch(Circle((568, 3780), 384, fc="#97A582", ec="none"))
over.add_patch(Circle((997, 3780), 384, fc="#678FC5", ec="none", alpha=0.5))
over.text(416, 3353, venn_names[0], fontsize=9, color="#1B5E30", ha="center", va="center")
over.text(1143, 3353, venn_names[1], fontsize=9, color="#4F8CC0", ha="center", va="center")
for val, x in zip(venn_counts, [437, 788, 1084]):
    over.text(x, 3778, str(val), fontsize=9, fontweight="bold", ha="center", va="center")

# ============================================================
# D: GO bars
# ============================================================
ax = px_axes(fig, 2832, 274, 3829, 2341)
pos = np.arange(len(go_terms))
ax.barh(pos, go_values, height=0.6, color=[go_colors[g] for g in go_groups])
ax.set_yticks(pos); ax.set_yticklabels(go_terms)
ax.set_ylim(len(go_terms) - 0.4, -0.6); ax.set_xlim(-0.1, 2.104)
ax.xaxis.set_major_locator(MultipleLocator(0.5)); ax.xaxis.set_minor_locator(MultipleLocator(0.25))
ax.grid(which="major", color="#EBEBEB", lw=0.7); ax.grid(which="minor", axis="x", color="#EBEBEB", lw=0.4)
ax.set_axisbelow(True)
ax.tick_params(which="minor", length=0)
ax.tick_params(which="major", length=1.8, width=0.7, color="#333333", labelcolor="#4D4D4D", labelsize=10.75, pad=2.7)
ax.tick_params(axis="x", pad=3)
for s in ax.spines.values():
    s.set_linewidth(0.6); s.set_color("#222222")
over.text(1965, 1308, "Term", fontsize=13, fontweight="bold", rotation=90, ha="center", va="center")
over.text(3328, 2432, "log10(Count)", fontsize=12.4, fontweight="bold", ha="center", va="center")
for name, x0, xt in zip(go_names, [2987, 3227, 3472], [3064, 3304, 3548]):
    over.add_patch(Rectangle((x0, 159), 54, 55, fc=go_colors[name], ec="none"))
    over.text(xt, 190, name, fontsize=9.8, va="center")

# ============================================================
# E: KEGG dots
# ============================================================
kegg_cmap = LinearSegmentedColormap.from_list(
    "kegg", [(0, "#1E4FA0"), (0.205, "#6B3F9E"), (0.403, "#A8308F"), (0.64, "#CC0A7B"), (0.8, "#E8174D"), (1, "#E9211F")])
kegg_norm = Normalize(3.28, 5.81)
ax = px_axes(fig, 2637, 2688, 3521, 4014)
pos = np.arange(len(kegg_terms))
ax.scatter(kegg_count, pos, s=px_to_s(count_diam(kegg_count)), c=kegg_logp, cmap=kegg_cmap, norm=kegg_norm, linewidths=0, zorder=3)
ax.set_yticks(pos); ax.set_yticklabels(kegg_terms)
ax.set_ylim(len(kegg_terms) - 0.4, -0.6); ax.set_xlim(3.16, 44.86)
ax.xaxis.set_major_locator(MultipleLocator(10)); ax.xaxis.set_minor_locator(MultipleLocator(5))
ax.grid(which="major", color="#EBEBEB", lw=0.7); ax.grid(which="minor", axis="x", color="#EBEBEB", lw=0.4)
ax.set_axisbelow(True)
ax.tick_params(which="minor", length=0)
ax.tick_params(which="major", length=1.8, width=0.7, color="#333333", labelcolor="#4D4D4D", labelsize=11.55, pad=2.7)
ax.tick_params(axis="x", pad=3)
for s in ax.spines.values():
    s.set_linewidth(0.7); s.set_color("#222222")
fig.canvas.draw()
shift = ScaledTranslation(-26 / DPI, 0, fig.dpi_scale_trans)
for lab in ax.get_xticklabels():
    lab.set_transform(lab.get_transform() + shift)
over.text(1681, 3349, "KEGG_PATHWAY", fontsize=13, rotation=90, ha="center", va="center")
over.text(3078, 4109, "Count", fontsize=13.2, ha="center", va="center")

over.text(3578, 2999, "Count", fontsize=9, va="center")
for c, y in zip(count_legend, [3063, 3123, 3187, 3259]):
    over.scatter([3616], [y], s=px_to_s(count_diam(c)), c="black", linewidths=0)
    over.text(3674, y + 2, str(c), fontsize=7.2, va="center")
over.text(3578, 3395, "−log10(PValue)", fontsize=9, va="center")
cax = px_axes(fig, 3578, 3427, 3638, 3723)
cb = fig.colorbar(ScalarMappable(kegg_norm, kegg_cmap), cax=cax)
cb.set_ticks([4, 5]); cb.outline.set_visible(False)
cax.tick_params(length=0, labelsize=7.2, pad=5)
cax.hlines([4, 5], 0, 0.2, color="white", lw=0.5)
cax.hlines([4, 5], 0.8, 1, color="white", lw=0.5)

fig.savefig("out.png", dpi=DPI, facecolor="white")
